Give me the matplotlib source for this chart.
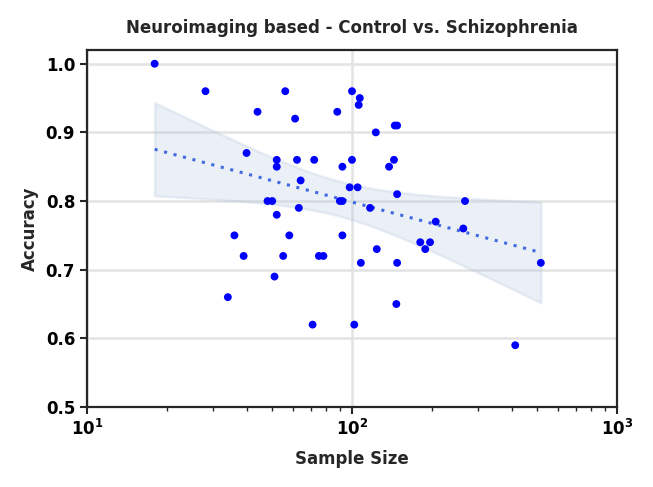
import numpy as np
import matplotlib
matplotlib.use("Agg")
import matplotlib.pyplot as plt

sample_size = [18, 28, 56, 44, 40, 52, 52, 48, 50, 52, 63, 90, 92, 117,
               36, 58, 92, 124, 39, 55, 75, 78, 108, 51, 34, 71, 102,
               100, 107, 106, 88, 61, 123, 145, 148, 62, 72, 100, 144, 92,
               138, 64, 98, 105, 148, 267, 207, 263, 181, 197, 189, 148,
               516, 147, 413]
accuracy = [1.00, 0.96, 0.96, 0.93, 0.87, 0.86, 0.85, 0.80, 0.80, 0.78, 0.79, 0.80, 0.80, 0.79,
            0.75, 0.75, 0.75, 0.73, 0.72, 0.72, 0.72, 0.72, 0.71, 0.69, 0.66, 0.62, 0.62,
            0.96, 0.95, 0.94, 0.93, 0.92, 0.90, 0.91, 0.91, 0.86, 0.86, 0.86, 0.86, 0.85,
            0.85, 0.83, 0.82, 0.82, 0.81, 0.80, 0.77, 0.76, 0.74, 0.74, 0.73, 0.71,
            0.71, 0.65, 0.59]

title = "Neuroimaging based - Control vs. Schizophrenia"
xlabel = "Sample Size"
ylabel = "Accuracy"
yticks = [0.5, 0.6, 0.7, 0.8, 0.9, 1.0]

x = np.array(sample_size, dtype=float)
y = np.array(accuracy, dtype=float)
lx = np.log10(x)
n = len(x)
b, a = np.polyfit(lx, y, 1)
resid = y - (a + b * lx)
s = np.sqrt(np.sum(resid ** 2) / (n - 2))
t = 2.006
grid = np.linspace(x.min(), x.max(), 100)
lg = np.log10(grid)
pred = a + b * lg
se = s * np.sqrt(1.0 / n + (lg - lx.mean()) ** 2 / np.sum((lx - lx.mean()) ** 2))
lo = pred - t * se
hi = pred + t * se

fig = plt.figure(figsize=(6.53, 4.87), dpi=100)
ax = fig.add_axes([87 / 653, 1 - 407 / 487, (617 - 87) / 653, (407 - 50) / 487])
ax.set_xscale("log")
ax.set_xlim(10, 1000)
ax.set_ylim(0.5, 1.02)

ax.grid(True, which="major", color="#e3e3e3", linewidth=1.8, zorder=0)
ax.set_axisbelow(True)

ax.fill_between(grid, lo, hi, facecolor="#b0c4de", alpha=0.25,
                edgecolor="#b0c4de", linewidth=1.8, zorder=1)
ax.plot(grid, pred, linestyle=(0, (1, 2.2)), color="#4169e1", linewidth=2.2, zorder=2)
ax.scatter(x, y, s=32, color="#0000ff", edgecolors="none", zorder=3)

ax.set_yticks(yticks)
ax.set_yticklabels([f"{v:.1f}" for v in yticks])
for sp in ax.spines.values():
    sp.set_color("#262626")
    sp.set_linewidth(1.6)
ax.tick_params(axis="both", which="major", direction="out", length=5, width=1.5,
               colors="#262626", labelcolor="black", labelsize=12)
ax.tick_params(axis="x", which="minor", direction="out", length=3, width=1.0, colors="#262626")
for lab in ax.get_xticklabels() + ax.get_yticklabels():
    lab.set_fontweight("bold")

ax.set_title(title, fontsize=12, fontweight="bold", color="#262626", pad=12)
ax.set_xlabel(xlabel, fontsize=12, fontweight="bold", color="#262626", labelpad=8)
ax.set_ylabel(ylabel, fontsize=12, fontweight="bold", color="#262626", labelpad=5)

fig.savefig("out.png", dpi=100)
